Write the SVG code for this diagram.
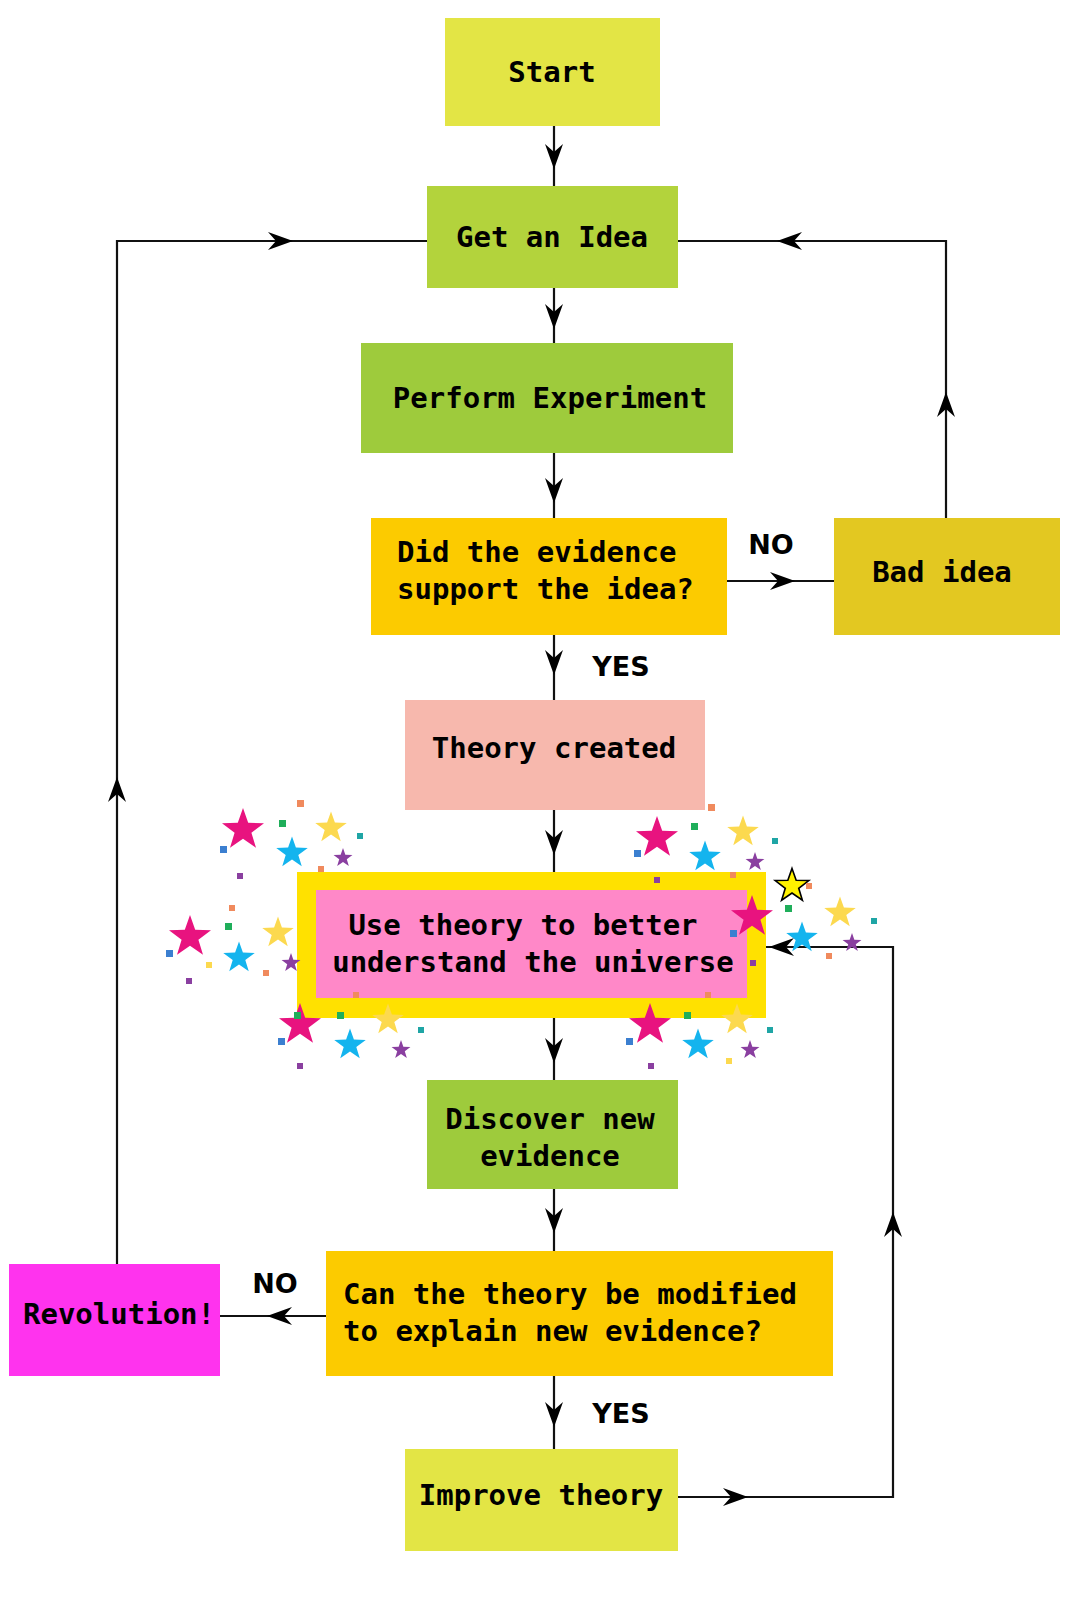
<svg xmlns="http://www.w3.org/2000/svg" xmlns:xlink="http://www.w3.org/1999/xlink" width="1082" height="1600" viewBox="0 0 1082 1600">
<style>
text{font-family:"DejaVu Sans Mono","Liberation Mono",monospace;font-weight:bold;font-size:29px;fill:#000;text-anchor:middle}
.lbl{font-family:"DejaVu Sans","Liberation Sans",sans-serif;font-size:27px}
.ln{fill:none;stroke:#111;stroke-width:2.2}
.ah{fill:#000}
</style>
<defs>
<path id="ar" d="M13,0 L-12,-9 L-4,0 L-12,9 Z"/>
<path id="st" d="M0,-22 L5.2,-7.2 L21,-6.8 L8.4,2.8 L13,17.8 L0,8.8 L-13,17.8 L-8.4,2.8 L-21,-6.8 L-5.2,-7.2 Z"/>
</defs>
<rect width="1082" height="1600" fill="#fff"/>
<g id="connectors">
<path class="ln" d="M554,126V186 M554,288V343 M554,453V518 M554,635V700 M554,810V872 M554,1018V1080 M554,1189V1251 M554,1376V1449"/>
<path class="ln" d="M117,1264V241H427"/>
<path class="ln" d="M946,518V241H678"/>
<path class="ln" d="M727,581H834"/>
<path class="ln" d="M326,1316H220"/>
<path class="ln" d="M678,1497H893V947H766"/>
<g class="ah">
<use xlink:href="#ar" transform="translate(554,156) rotate(90)"/>
<use xlink:href="#ar" transform="translate(554,316) rotate(90)"/>
<use xlink:href="#ar" transform="translate(554,490) rotate(90)"/>
<use xlink:href="#ar" transform="translate(554,662) rotate(90)"/>
<use xlink:href="#ar" transform="translate(554,842) rotate(90)"/>
<use xlink:href="#ar" transform="translate(554,1050) rotate(90)"/>
<use xlink:href="#ar" transform="translate(554,1220) rotate(90)"/>
<use xlink:href="#ar" transform="translate(554,1414) rotate(90)"/>
<use xlink:href="#ar" transform="translate(117,790) rotate(-90)"/>
<use xlink:href="#ar" transform="translate(280,241)"/>
<use xlink:href="#ar" transform="translate(946,405) rotate(-90)"/>
<use xlink:href="#ar" transform="translate(790,241) rotate(180)"/>
<use xlink:href="#ar" transform="translate(782,581)"/>
<use xlink:href="#ar" transform="translate(280,1316) rotate(180)"/>
<use xlink:href="#ar" transform="translate(735,1497)"/>
<use xlink:href="#ar" transform="translate(893,1225) rotate(-90)"/>
<use xlink:href="#ar" transform="translate(782,947) rotate(180)"/>
</g>
<text class="lbl" x="771" y="554">NO</text>
<text class="lbl" x="621" y="676">YES</text>
<text class="lbl" x="275" y="1293">NO</text>
<text class="lbl" x="621" y="1423">YES</text>
</g>
<g id="start"><rect x="445" y="18" width="215" height="108" fill="#e3e545"/><text x="552" y="82">Start</text></g>
<g id="idea"><rect x="427" y="186" width="251" height="102" fill="#b3d33c"/><text x="552" y="247">Get an Idea</text></g>
<g id="experiment"><rect x="361" y="343" width="372" height="110" fill="#9ecb3c"/><text x="550" y="408">Perform Experiment</text></g>
<g id="support"><rect x="371" y="518" width="356" height="117" fill="#fccb00"/><text x="397" y="562" style="text-anchor:start">Did the evidence</text><text x="397" y="599" style="text-anchor:start">support the idea?</text></g>
<g id="bad"><rect x="834" y="518" width="226" height="117" fill="#e3c821"/><text x="942" y="582">Bad idea</text></g>
<g id="theory"><rect x="405" y="700" width="300" height="110" fill="#f7b8ad"/><text x="554" y="758">Theory created</text></g>
<g id="use"><rect x="297" y="872" width="469" height="146" fill="#ffe100"/><rect x="316" y="890" width="431" height="108" fill="#ff88c8"/><text x="523" y="935">Use theory to better</text><text x="533" y="972">understand the universe</text></g>
<g id="confetti">
<g fill="#e8137f">
<use xlink:href="#st" transform="translate(243,830)"/><use xlink:href="#st" transform="translate(190,937)"/><use xlink:href="#st" transform="translate(300,1025)"/><use xlink:href="#st" transform="translate(657,838)"/><use xlink:href="#st" transform="translate(752,917)"/><use xlink:href="#st" transform="translate(650,1025)"/>
</g>
<g fill="#fcd94f">
<use xlink:href="#st" transform="translate(331,828) scale(0.75)"/><use xlink:href="#st" transform="translate(278,933) scale(0.75)"/><use xlink:href="#st" transform="translate(388,1020) scale(0.75)"/><use xlink:href="#st" transform="translate(743,832) scale(0.75)"/><use xlink:href="#st" transform="translate(840,913) scale(0.75)"/><use xlink:href="#st" transform="translate(737,1020) scale(0.75)"/>
</g>
<use xlink:href="#st" transform="translate(792,886) scale(0.8)" fill="#fff200" stroke="#000" stroke-width="2"/>
<g fill="#14b4ee">
<use xlink:href="#st" transform="translate(292,853) scale(0.75)"/><use xlink:href="#st" transform="translate(239,958) scale(0.75)"/><use xlink:href="#st" transform="translate(350,1045) scale(0.75)"/><use xlink:href="#st" transform="translate(705,857) scale(0.75)"/><use xlink:href="#st" transform="translate(802,938) scale(0.75)"/><use xlink:href="#st" transform="translate(698,1045) scale(0.75)"/>
</g>
<g fill="#8a3fa0">
<use xlink:href="#st" transform="translate(343,858) scale(0.45)"/><use xlink:href="#st" transform="translate(291,963) scale(0.45)"/><use xlink:href="#st" transform="translate(401,1050) scale(0.45)"/><use xlink:href="#st" transform="translate(755,862) scale(0.45)"/><use xlink:href="#st" transform="translate(852,943) scale(0.45)"/><use xlink:href="#st" transform="translate(750,1050) scale(0.45)"/>
</g>
<g>
<rect x="297" y="800" width="7" height="7" fill="#f08a5d"/><rect x="279" y="820" width="7" height="7" fill="#1fae5a"/><rect x="357" y="833" width="6" height="6" fill="#1fa5a5"/><rect x="220" y="846" width="7" height="7" fill="#3b7fd0"/><rect x="237" y="873" width="6" height="6" fill="#8a3fa0"/><rect x="318" y="866" width="6" height="6" fill="#f08a5d"/>
<rect x="225" y="923" width="7" height="7" fill="#1fae5a"/><rect x="166" y="950" width="7" height="7" fill="#3b7fd0"/><rect x="186" y="978" width="6" height="6" fill="#8a3fa0"/><rect x="229" y="905" width="6" height="6" fill="#f08a5d"/><rect x="263" y="970" width="6" height="6" fill="#f08a5d"/><rect x="206" y="962" width="6" height="6" fill="#fcd94f"/>
<rect x="294" y="1012" width="7" height="7" fill="#1fae5a"/><rect x="278" y="1038" width="7" height="7" fill="#3b7fd0"/><rect x="297" y="1063" width="6" height="6" fill="#8a3fa0"/><rect x="353" y="992" width="6" height="6" fill="#f08a5d"/><rect x="418" y="1027" width="6" height="6" fill="#1fa5a5"/><rect x="337" y="1012" width="7" height="7" fill="#1fae5a"/>
<rect x="708" y="804" width="7" height="7" fill="#f08a5d"/><rect x="691" y="823" width="7" height="7" fill="#1fae5a"/><rect x="772" y="838" width="6" height="6" fill="#1fa5a5"/><rect x="634" y="850" width="7" height="7" fill="#3b7fd0"/><rect x="654" y="877" width="6" height="6" fill="#8a3fa0"/><rect x="730" y="872" width="6" height="6" fill="#f08a5d"/>
<rect x="785" y="905" width="7" height="7" fill="#1fae5a"/><rect x="871" y="918" width="6" height="6" fill="#1fa5a5"/><rect x="730" y="930" width="7" height="7" fill="#3b7fd0"/><rect x="750" y="960" width="6" height="6" fill="#8a3fa0"/><rect x="826" y="953" width="6" height="6" fill="#f08a5d"/><rect x="806" y="883" width="6" height="6" fill="#f08a5d"/>
<rect x="684" y="1012" width="7" height="7" fill="#1fae5a"/><rect x="626" y="1038" width="7" height="7" fill="#3b7fd0"/><rect x="648" y="1063" width="6" height="6" fill="#8a3fa0"/><rect x="705" y="992" width="6" height="6" fill="#f08a5d"/><rect x="767" y="1027" width="6" height="6" fill="#1fa5a5"/><rect x="726" y="1058" width="6" height="6" fill="#fcd94f"/>
</g>
</g>
<g id="discover"><rect x="427" y="1080" width="251" height="109" fill="#9ecb3c"/><text x="550" y="1129">Discover new</text><text x="550" y="1166">evidence</text></g>
<g id="modify"><rect x="326" y="1251" width="507" height="125" fill="#fccb00"/><text x="343" y="1304" style="text-anchor:start">Can the theory be modified</text><text x="343" y="1341" style="text-anchor:start">to explain new evidence?</text></g>
<g id="revolution"><rect x="9" y="1264" width="211" height="112" fill="#ff33ee"/><text x="119" y="1324">Revolution!</text></g>
<g id="improve"><rect x="405" y="1449" width="273" height="102" fill="#e3e545"/><text x="541" y="1505">Improve theory</text></g>
</svg>
